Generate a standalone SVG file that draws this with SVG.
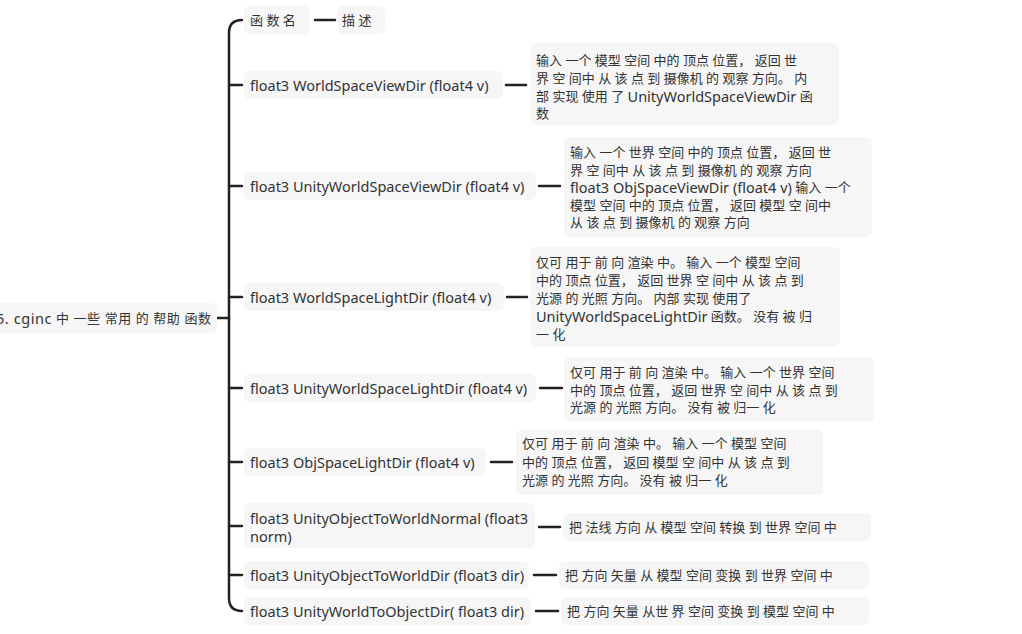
<svg xmlns="http://www.w3.org/2000/svg" width="1022" height="634" viewBox="0 0 1022 634">
<style>
.bg{fill:#f6f6f6}
text{font-family:"Noto Sans","Noto Sans CJK SC",sans-serif;font-size:13px;fill:#333;dominant-baseline:central}
.f,.l{font-size:14.5px}
.ln{stroke:#222;stroke-width:2.5;fill:none;stroke-linecap:round}
</style>
<rect width="1022" height="634" fill="#ffffff"/>
<g id="connectors">
<path class="ln" d="M242,20 Q229,20 229,33 L229,598 Q229,611 242,611"/>
<path class="ln" d="M217,318 L229,318"/>
<path class="ln" d="M229,85 L242,85 M229,186 L242,186 M229,297 L242,297 M229,388 L242,388 M229,462 L242,462 M229,526 L242,526 M229,575 L242,575"/>
<path class="ln" d="M315,20 L335,20 M506,85 L526,85 M539,186 L560,186 M507,297 L527,297 M540,388 L562,388 M491,462 L512,462 M539,527 L560,527 M534,575 L556,575 M536,611 L558,611"/>
</g>
<g id="root"><rect class="bg" x="-10" y="303" width="227" height="30" rx="6"/><text x="-4" y="318" font-size="14" textLength="215" lengthAdjust="spacing"><tspan class="l">5. cginc</tspan> 中 一些 常用 的 帮助 函数</text></g>
<g id="n0"><rect class="bg" x="244" y="6" width="66" height="28" rx="6"/><text x="250" y="20">函 数 名</text></g>
<g id="d0"><rect class="bg" x="337" y="6" width="48" height="28" rx="6"/><text x="342" y="20">描 述</text></g>
<g id="n1"><rect class="bg" x="244" y="71" width="259" height="28" rx="6"/><text class="f" x="250" y="85">float3 WorldSpaceViewDir (float4 v)</text></g>
<g id="d1"><rect class="bg" x="530" y="43" width="309" height="82" rx="6"/>
<text x="536" y="60">输入 一个 模型 空间 中的 顶点 位置， 返回 世</text>
<text x="536" y="78">界 空 间中 从 该 点 到 摄像机 的 观察 方向。 内</text>
<text x="536" y="96">部 实现 使用 了 <tspan class="l">UnityWorldSpaceViewDir</tspan> 函</text>
<text x="536" y="113">数</text></g>
<g id="n2"><rect class="bg" x="244" y="172" width="292" height="28" rx="6"/><text class="f" x="250" y="186">float3 UnityWorldSpaceViewDir (float4 v)</text></g>
<g id="d2"><rect class="bg" x="564" y="137" width="308" height="100" rx="6"/>
<text x="570" y="152">输入 一个 世界 空间 中的 顶点 位置， 返回 世</text>
<text x="570" y="170">界 空 间中 从 该 点 到 摄像机 的 观察 方向</text>
<text x="570" y="187"><tspan class="l">float3 ObjSpaceViewDir (float4 v)</tspan> 输入 一个</text>
<text x="570" y="205">模型 空间 中的 顶点 位置， 返回 模型 空 间中</text>
<text x="570" y="222">从 该 点 到 摄像机 的 观察 方向</text></g>
<g id="n3"><rect class="bg" x="244" y="283" width="260" height="28" rx="6"/><text class="f" x="250" y="297">float3 WorldSpaceLightDir (float4 v)</text></g>
<g id="d3"><rect class="bg" x="530" y="247" width="310" height="100" rx="6"/>
<text x="536" y="262">仅可 用于 前 向 渲染 中。 输入 一个 模型 空间</text>
<text x="536" y="280">中的 顶点 位置， 返回 世界 空 间中 从 该 点 到</text>
<text x="536" y="298">光源 的 光照 方向。 内部 实现 使用了</text>
<text x="536" y="316"><tspan class="l">UnityWorldSpaceLightDir</tspan> 函数。 没有 被 归</text>
<text x="536" y="334">一 化</text></g>
<g id="n4"><rect class="bg" x="244" y="374" width="292" height="28" rx="6"/><text class="f" x="250" y="388">float3 UnityWorldSpaceLightDir (float4 v)</text></g>
<g id="d4"><rect class="bg" x="564" y="357" width="310" height="65" rx="6"/>
<text x="570" y="372">仅可 用于 前 向 渲染 中。 输入 一个 世界 空间</text>
<text x="570" y="390">中的 顶点 位置， 返回 世界 空 间中 从 该 点 到</text>
<text x="570" y="407">光源 的 光照 方向。 没有 被 归一 化</text></g>
<g id="n5"><rect class="bg" x="244" y="448" width="242" height="28" rx="6"/><text class="f" x="250" y="462">float3 ObjSpaceLightDir (float4 v)</text></g>
<g id="d5"><rect class="bg" x="516" y="430" width="307" height="65" rx="6"/>
<text x="522" y="443">仅可 用于 前 向 渲染 中。 输入 一个 模型 空间</text>
<text x="522" y="462">中的 顶点 位置， 返回 模型 空 间中 从 该 点 到</text>
<text x="522" y="480">光源 的 光照 方向。 没有 被 归一 化</text></g>
<g id="n6"><rect class="bg" x="244" y="503" width="291" height="45" rx="6"/><text class="f" x="250" y="518">float3 UnityObjectToWorldNormal (float3</text><text class="f" x="250" y="536">norm)</text></g>
<g id="d6"><rect class="bg" x="563" y="513" width="308" height="28" rx="6"/><text x="569" y="527">把 法线 方向 从 模型 空间 转换 到 世界 空间 中</text></g>
<g id="n7"><rect class="bg" x="244" y="561" width="285" height="28" rx="6"/><text class="f" x="250" y="575">float3 UnityObjectToWorldDir (float3 dir)</text></g>
<g id="d7"><rect class="bg" x="559" y="561" width="310" height="28" rx="6"/><text x="565" y="575">把 方向 矢量 从 模型 空间 变换 到 世界 空间 中</text></g>
<g id="n8"><rect class="bg" x="244" y="597" width="287" height="28" rx="6"/><text class="f" x="250" y="611">float3 UnityWorldToObjectDir( float3 dir)</text></g>
<g id="d8"><rect class="bg" x="561" y="597" width="308" height="28" rx="6"/><text x="567" y="611">把 方向 矢量 从世 界 空间 变换 到 模型 空间 中</text></g>
</svg>
